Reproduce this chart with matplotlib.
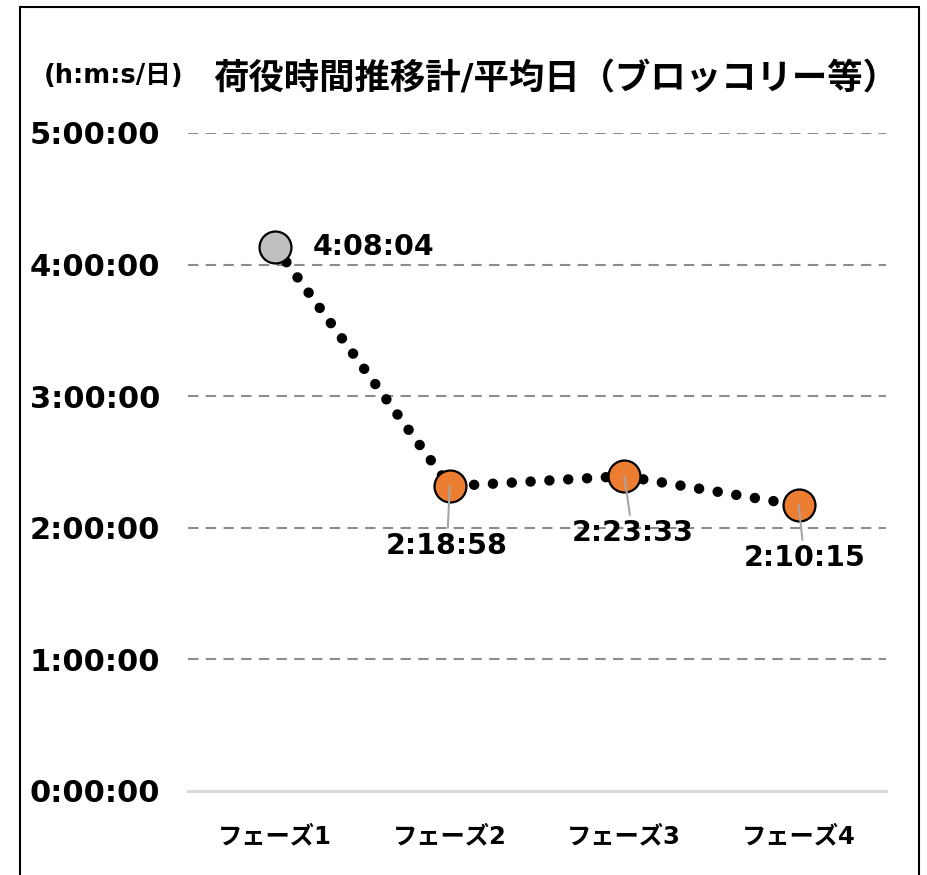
import numpy as np
import matplotlib
matplotlib.use("Agg")
import matplotlib.pyplot as plt
from matplotlib.patches import Rectangle
from matplotlib.ticker import FuncFormatter, MultipleLocator

plt.rcParams['font.family'] = ['DejaVu Sans', 'Noto Sans CJK JP']
plt.rcParams['font.weight'] = 'bold'

# data: average handling time per day for each phase (seconds)
phases = ['フェーズ1', 'フェーズ2', 'フェーズ3', 'フェーズ4']
seconds = [4*3600 + 8*60 + 4, 2*3600 + 18*60 + 58, 2*3600 + 23*60 + 33, 2*3600 + 10*60 + 15]
marker_colors = ['#BFBFBF', '#ED7D31', '#ED7D31', '#ED7D31']
# label offsets from each marker (points)
label_offsets = [(27, 0), (-2, -43), (6, -41), (4, -38)]

def hms(sec):
    sec = int(round(sec))
    return '%d:%02d:%02d' % (sec // 3600, sec % 3600 // 60, sec % 60)

hours = np.array(seconds) / 3600.0
x = np.arange(len(phases))

fig = plt.figure(figsize=(9.28, 8.75), dpi=100)
ax = fig.add_axes([188/928, 1 - 791/875, (886 - 188)/928, (791 - 133)/875])

ax.set_ylim(0, 5)
ax.set_xlim(-0.5, len(phases) - 0.5)
ax.yaxis.set_major_locator(MultipleLocator(1))
ax.yaxis.set_major_formatter(FuncFormatter(lambda v, p: hms(v * 3600)))
for yv in range(1, 6):
    ax.axhline(yv, color='#8C8C8C', lw=1.5, ls=(0, (5, 3.5)), zorder=1)
ax.axhline(0, color='#D9D9D9', lw=2.2, zorder=1, clip_on=False)

for s in ax.spines.values():
    s.set_visible(False)
ax.tick_params(length=0)
ax.tick_params(axis='y', pad=20, labelsize=22)
ax.tick_params(axis='x', pad=24, labelsize=17.5)
ax.set_xticks(x)
ax.set_xticklabels(phases)

# dotted connecting line
ax.plot(x, hours, color='black', lw=7.5, ls=(0, (0.01, 1.8)),
        dash_capstyle='round', zorder=2)
for xi, yi, c in zip(x, hours, marker_colors):
    ax.plot(xi, yi, 'o', ms=23, mfc=c, mec='black', mew=1.6, zorder=3)

for i, (xi, yi, s) in enumerate(zip(x, hours, seconds)):
    dx, dy = label_offsets[i]
    if i == 0:
        ax.annotate(hms(s), (xi, yi), xytext=(dx, dy), textcoords='offset points',
                    ha='left', va='center', fontsize=20.5, fontweight='bold', zorder=5)
    else:
        ax.annotate(hms(s), (xi, yi), xytext=(dx, dy), textcoords='offset points',
                    ha='center', va='center', fontsize=20.5, fontweight='bold', zorder=5,
                    arrowprops=dict(arrowstyle='-', color='#A6A6A6', lw=1.5,
                                    shrinkA=1, shrinkB=0))

fig.text(556/928, 1 - 79/875, '荷役時間推移計/平均日（ブロッコリー等）',
         ha='center', va='center', fontsize=25.5, fontweight='bold')
fig.text(114/928, 1 - 76/875, '(h:m:s/日)', ha='center', va='center',
         fontsize=18.5, fontweight='bold')

fig.patches.append(Rectangle((20/928, -0.05), (919 - 20)/928, 1.05 - 7/875,
                             transform=fig.transFigure, fill=False,
                             ec='black', lw=1.5))

fig.savefig('out.png', dpi=100)
